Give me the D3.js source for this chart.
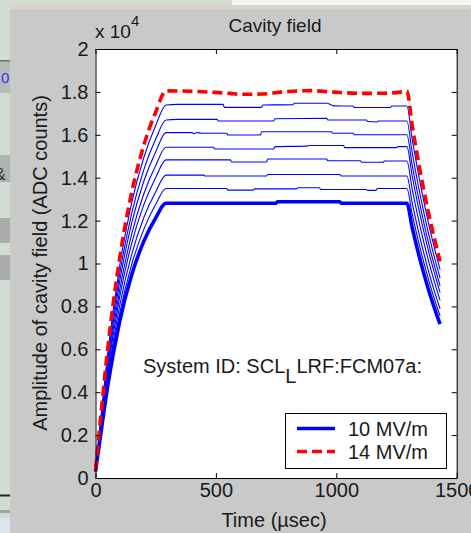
<!DOCTYPE html>
<html>
<head>
<meta charset="utf-8">
<script src="https://cdn.jsdelivr.net/npm/d3@7"></script>
<style>
  html, body { margin: 0; padding: 0; background: #d2dcd2; overflow: hidden; }
  svg { display: block; }
  text { font-family: "Liberation Sans", Arial, Helvetica, sans-serif; fill: #1a1a1a; }
</style>
</head>
<body>
<svg id="fig" width="471" height="533"></svg>
<script>
// Cavity field amplitude (ADC counts) vs time (µs), one trace per gradient set point.
// Each trace: [time µs, counts]
const cav10_0 = [[0,300],[25,2300],[50,4240],[100,7280],[150,9460],[200,11020],[250,12130],[293,12810],
  [750,12810],[755,12880],[1015,12880],[1020,12810],[1293,12810],
  [1315,11680],[1340,10520],[1365,9470],[1390,8520],[1410,7840],[1431,7170]];
const cav10_5 = [[0,300],[25,2420],[50,4460],[100,7650],[150,9950],[200,11580],[250,12760],[293,13500],
  [545,13500],[550,13420],[655,13420],[660,13480],[835,13480],[840,13530],[930,13530],[935,13450],
  [1125,13450],[1130,13410],[1165,13410],[1170,13500],[1293,13500],
  [1315,12310],[1340,11080],[1365,9980],[1390,8980],[1410,8260],[1431,7560]];
const cav11_0 = [[0,300],[25,2530],[50,4660],[100,8010],[150,10410],[200,12120],[250,13340],[293,14120],
  [450,14120],[455,14080],[710,14080],[715,14150],[1015,14150],[1020,14080],[1293,14080],
  [1315,12840],[1340,11560],[1365,10410],[1390,9360],[1410,8620],[1431,7880]];
const cav11_5 = [[0,300],[25,2650],[50,4890],[100,8410],[150,10930],[200,12720],[250,14010],[293,14830],
  [560,14830],[565,14730],[710,14730],[715,14870],[960,14870],[965,14790],[1100,14790],[1105,14720],
  [1195,14720],[1200,14780],[1293,14780],
  [1315,13480],[1340,12130],[1365,10920],[1390,9830],[1410,9050],[1431,8280]];
const cav12_0 = [[0,300],[25,2760],[50,5090],[100,8740],[150,11360],[200,13230],[250,14570],[293,15420],
  [490,15420],[495,15340],[740,15340],[745,15450],[880,15470],[885,15500],[1030,15500],[1035,15400],
  [1250,15400],[1255,15450],[1293,15450],
  [1315,14090],[1340,12680],[1365,11420],[1390,10270],[1410,9460],[1431,8650]];
const cav12_5 = [[0,300],[25,2880],[50,5310],[100,9130],[150,11870],[200,13810],[250,15210],[293,16100],
  [400,16100],[410,16050],[420,16110],[440,16070],[545,16070],[550,15990],[685,15990],[690,16140],
  [980,16140],[985,16070],[1070,16070],[1075,16000],[1293,16000],
  [1315,14590],[1340,13140],[1365,11820],[1390,10640],[1410,9790],[1431,8960]];
const cav13_0 = [[0,300],[25,2990],[50,5520],[100,9480],[150,12320],[200,14350],[250,15800],[293,16690],
  [340,16720],[505,16720],[510,16640],[740,16640],[745,16750],[960,16770],[965,16690],[1125,16690],
  [1130,16620],[1170,16600],[1175,16640],[1293,16640],
  [1315,15180],[1340,13660],[1365,12300],[1390,11070],[1410,10180],[1431,9320]];
const cav13_5 = [[0,300],[25,3110],[50,5740],[100,9860],[150,12820],[200,14920],[250,16430],[293,17390],
  [340,17420],[530,17420],[535,17280],[690,17280],[695,17390],[820,17400],[825,17470],[960,17470],
  [990,17350],[1070,17340],[1075,17270],[1225,17270],[1230,17340],[1293,17340],
  [1315,15810],[1340,14240],[1365,12810],[1390,11530],[1410,10610],[1431,9710]];
const cav14_0 = [[0,350],[25,3230],[50,5960],[100,10230],[150,13300],[200,15490],[250,17060],[293,18050],
  [490,17980],[560,17930],[600,17890],[690,17900],[770,17990],[890,18060],[990,17990],[1110,17930],
  [1200,17940],[1265,17990],[1293,18040],
  [1315,16450],[1340,14810],[1365,13330],[1390,12000],[1410,11040],[1431,10100]];

const thinTraces = [cav10_5, cav11_0, cav11_5, cav12_0, cav12_5, cav13_0, cav13_5];
const legendLabels = ["10 MV/m", "14 MV/m"];
const xTicks = [0, 500, 1000, 1500];
const yTicks = [0, 2000, 4000, 6000, 8000, 10000, 12000, 14000, 16000, 18000, 20000];

const svg = d3.select("#fig");

// window surroundings
svg.append("rect").attr("x", 0).attr("y", 0).attr("width", 471).attr("height", 533).attr("fill", "#d2dcd2");
svg.append("rect").attr("x", 232).attr("y", 0).attr("width", 239).attr("height", 5).attr("fill", "#f4f4f4");
svg.append("rect").attr("x", 10).attr("y", 5).attr("width", 461).attr("height", 4).attr("fill", "#d8d2c8");
svg.append("rect").attr("x", 10).attr("y", 9).attr("width", 461).attr("height", 524).attr("fill", "#c9c9c9");

// controls peeking out on the left edge
svg.append("rect").attr("x", 0).attr("y", 60).attr("width", 10).attr("height", 33).attr("fill", "#b8bcb8");
svg.append("rect").attr("x", 0).attr("y", 60).attr("width", 10).attr("height", 1.5).attr("fill", "#6a6e6a");
svg.append("text").attr("x", 1).attr("y", 83).style("font-size", "15px").style("fill", "#3333ee").text("0");
svg.append("rect").attr("x", 0).attr("y", 155).attr("width", 10).attr("height", 27).attr("fill", "#b0b4b0");
svg.append("text").attr("x", -5).attr("y", 180).style("font-size", "16px").style("fill", "#333").text("&");
svg.append("rect").attr("x", 0).attr("y", 218).attr("width", 10).attr("height", 25).attr("fill", "#a9aca9");
svg.append("rect").attr("x", 0).attr("y", 255).attr("width", 10).attr("height", 25).attr("fill", "#a9aca9");
svg.append("rect").attr("x", 0).attr("y", 494.5).attr("width", 10).attr("height", 2).attr("fill", "#222");
svg.append("rect").attr("x", 0).attr("y", 510).attr("width", 10).attr("height", 3).attr("fill", "#a0a4a0");
svg.append("rect").attr("x", 0).attr("y", 518).attr("width", 10).attr("height", 15).attr("fill", "#dde4ec");

// plot area
const x = d3.scaleLinear().domain([0, 1500]).range([95.5, 456.7]);
const y = d3.scaleLinear().domain([0, 20000]).range([478, 49]);

svg.append("rect")
  .attr("x", x(0)).attr("y", y(20000))
  .attr("width", x(1500) - x(0)).attr("height", y(0) - y(20000))
  .attr("fill", "#ffffff");

const line = d3.line()
  .x(d => x(d[0]))
  .y(d => y(d[1]))
  .curve(d3.curveMonotoneX);

const traces = svg.append("g").attr("fill", "none");
thinTraces.forEach(t => {
  traces.append("path").attr("d", line(t)).attr("stroke", "#0000ff").attr("stroke-width", 1.1);
});
traces.append("path").attr("d", line(cav10_0)).attr("stroke", "#0000ff").attr("stroke-width", 3.6)
  .attr("stroke-linejoin", "round");
traces.append("path").attr("d", line(cav14_0)).attr("stroke", "#ff0000").attr("stroke-width", 3.6)
  .attr("stroke-dasharray", "10,5");

// axes with inward ticks on all four sides
const fmtX = d3.format("d");
const fmtY = d => String(d / 10000);
svg.append("g").attr("transform", `translate(0,${y(0)})`)
  .call(d3.axisBottom(x).tickValues(xTicks).tickFormat(fmtX).tickSize(-5).tickSizeOuter(0).tickPadding(5));
svg.append("g").attr("transform", `translate(${x(0)},0)`)
  .call(d3.axisLeft(y).tickValues(yTicks).tickFormat(fmtY).tickSize(-5).tickSizeOuter(0).tickPadding(7));
svg.append("g").attr("transform", `translate(0,${y(20000)})`)
  .call(d3.axisTop(x).tickValues(xTicks).tickSize(-5).tickSizeOuter(0).tickFormat(""));
svg.append("g").attr("transform", `translate(${x(1500)},0)`)
  .call(d3.axisRight(y).tickValues(yTicks).tickSize(-5).tickSizeOuter(0).tickFormat(""));

svg.selectAll(".domain, .tick line").attr("stroke", "#000").attr("stroke-width", 1);
svg.selectAll(".tick text").style("font-size", "20px").style("fill", "#1a1a1a")
  .attr("font-family", null);

// exponent note
const expo = svg.append("text").attr("x", 95).attr("y", 38).style("font-size", "19px");
expo.append("tspan").text("x 10");
expo.append("tspan").attr("dy", -12).style("font-size", "15px").text("4");

// title
svg.append("text").attr("x", 275).attr("y", 32).attr("text-anchor", "middle")
  .style("font-size", "19px").text("Cavity field");

// axis titles
svg.append("text").attr("x", 274).attr("y", 527).attr("text-anchor", "middle")
  .style("font-size", "20px").text("Time (\u00b5sec)");
svg.append("text").attr("transform", "translate(47,263) rotate(-90)").attr("text-anchor", "middle")
  .style("font-size", "20px").text("Amplitude of cavity field (ADC counts)");

// annotation
const sid = svg.append("text").attr("x", 143).attr("y", 373).style("font-size", "20px");
sid.append("tspan").text("System ID: SCL");
sid.append("tspan").attr("dy", 10).text("L");
sid.append("tspan").attr("dy", -10).text("LRF:FCM07a:");

// legend
const lg = svg.append("g");
lg.append("rect").attr("x", 285.5).attr("y", 413.5).attr("width", 161).attr("height", 55)
  .attr("fill", "#fff").attr("stroke", "#000").attr("stroke-width", 1);
lg.append("line").attr("x1", 297).attr("x2", 335).attr("y1", 428.5).attr("y2", 428.5)
  .attr("stroke", "#0000ff").attr("stroke-width", 3.6);
lg.append("line").attr("x1", 297).attr("x2", 335).attr("y1", 451.5).attr("y2", 451.5)
  .attr("stroke", "#ff0000").attr("stroke-width", 3.6).attr("stroke-dasharray", "10,5");
lg.selectAll("text.lab").data(legendLabels).enter().append("text").attr("class", "lab")
  .attr("x", 348).attr("y", (d, i) => 435.5 + i * 23)
  .style("font-size", "20px").text(d => d);
</script>
</body>
</html>
